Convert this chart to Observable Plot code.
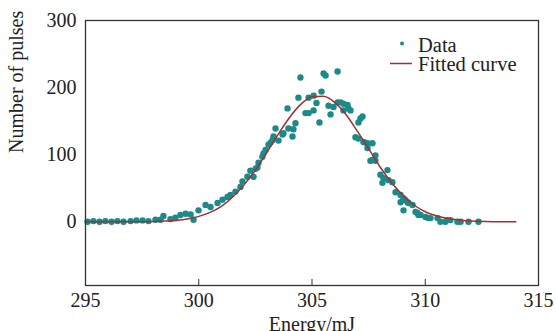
<!DOCTYPE html>
<html>
<head>
<meta charset="utf-8">
<script src="https://cdn.jsdelivr.net/npm/d3@7"></script>
<script src="https://cdn.jsdelivr.net/npm/@observablehq/plot@0.6"></script>
<style>
  html, body { margin: 0; padding: 0; background: #fff; }
  #chart { width: 556px; height: 331px; overflow: hidden; }
</style>
</head>
<body>
<div id="chart"></div>
<script>
const energy = [295.09,295.35,295.62,295.88,296.15,296.41,296.68,296.99,297.25,297.52,297.78,298.09,298.31,298.44,298.75,298.97,299.19,299.42,299.64,299.77,299.99,300.30,300.52,300.83,301.05,301.27,301.40,301.62,301.84,301.93,302.15,302.28,302.42,302.51,302.59,302.64,302.81,302.86,302.95,303.08,303.17,303.26,303.30,303.39,303.52,303.70,303.74,303.92,303.96,304.14,304.18,304.27,304.40,304.49,304.71,304.85,304.85,305.07,305.07,305.20,305.33,305.42,305.51,305.60,305.73,305.82,305.95,306.13,306.13,306.26,306.39,306.39,306.57,306.61,306.70,306.92,307.05,307.05,307.14,307.23,307.27,307.36,307.45,307.45,307.58,307.67,307.67,307.80,307.80,308.02,308.11,308.16,308.33,308.38,308.55,308.69,308.91,308.91,309.04,309.04,309.13,309.22,309.26,309.44,309.57,309.66,309.70,309.79,310.01,310.14,310.23,310.54,310.67,310.89,310.98,311.11,311.42,311.56,311.91,312.35];
const pulses = [0,1,0,1,0,1,0,1,2,2,1,3,3,8.5,4,6,10,12,11,3,17,25,22,28,33,37,40,45,52,60,67,76,67,79,81,88,97,102,107,115,118,122,127,139,121,130,132,169,139,127,138,147,185,215,162,162,185,188,166,177,148,194,221,218,173,160,171,178,224,178,176,166,174,169,166,126,148,124,154,157,119,118,117,110,91,117,92,91,99,70,58,65,77,62,59,44,40,29,35,17,32,29,28,25,14.5,13,10,10,7,5.5,5.5,5.5,0,0,2.5,2.5,0,0,0,0];

const fitEnergy = [295,296,297,298,298.5,299,299.5,300,300.5,301,301.5,302,302.5,303,303.5,304,304.5,305,305.5,306,306.5,307,307.5,308,308.5,309,309.5,310,310.5,311,311.5,312,313,314];
const fitPulses = [0,0,0,0.5,1,2,4,8,14,23,37,55,77,103,130,155,175,186,187,178,160,135,109,82,59,40,25,15,9,5,2.5,1,0.2,0];

const xTicks = [295,300,305,310,315];
const yTicks = [0,100,200,300];
const xInnerTicks = [300,305,310];

const points = energy.map((e, i) => ({e, p: pulses[i]}));
const fit = fitEnergy.map((e, i) => ({e, p: fitPulses[i]}));

const font = "'Liberation Serif', 'Times New Roman', serif";

const plot = Plot.plot({
  width: 556,
  height: 331,
  marginLeft: 85,
  marginRight: 18,
  marginTop: 20,
  marginBottom: 46,
  style: {fontFamily: font, fontSize: "20px", color: "#222", background: "#fff"},
  x: {domain: [295, 315]},
  y: {domain: [-95, 300]},
  marks: [
    Plot.axisX({ticks: xTicks, tickSize: 0, tickPadding: 7, label: null, fontSize: 20}),
    Plot.axisX({ticks: xInnerTicks, tickSize: -6, text: null, label: null, stroke: "#333"}),
    Plot.axisY({ticks: yTicks, tickSize: 0, tickPadding: 9, label: null, fontSize: 20}),
    Plot.dot(points, {x: "e", y: "p", r: 3.2, fill: "#1c8a8a", stroke: "none"}),
    Plot.line(fit, {x: "e", y: "p", stroke: "#a1302e", strokeWidth: 1.5, curve: "monotone-x"}),
    Plot.frame({stroke: "#333", strokeWidth: 1.3}),
    Plot.text(["Energy/mJ"], {frameAnchor: "bottom", dy: 45, fontSize: 20, fill: "#222"}),
    Plot.text(["Number of pulses"], {frameAnchor: "left", dx: -69, rotate: -90, fontSize: 20, fill: "#222"})
  ]
});

const svg = d3.select(plot);
const lg = svg.append("g").attr("font-family", font).attr("font-size", 20.5).attr("fill", "#222").attr("text-anchor", "start");
lg.append("circle").attr("cx", 402).attr("cy", 43.5).attr("r", 2).attr("fill", "#1c8a8a");
lg.append("text").attr("x", 418).attr("y", 51.5).attr("text-anchor", "start").text("Data");
lg.append("line").attr("x1", 390).attr("x2", 412).attr("y1", 63.5).attr("y2", 63.5).attr("stroke", "#a1302e").attr("stroke-width", 1.5);
lg.append("text").attr("x", 418).attr("y", 71).attr("text-anchor", "start").text("Fitted curve");

document.getElementById("chart").appendChild(plot);
</script>
</body>
</html>
